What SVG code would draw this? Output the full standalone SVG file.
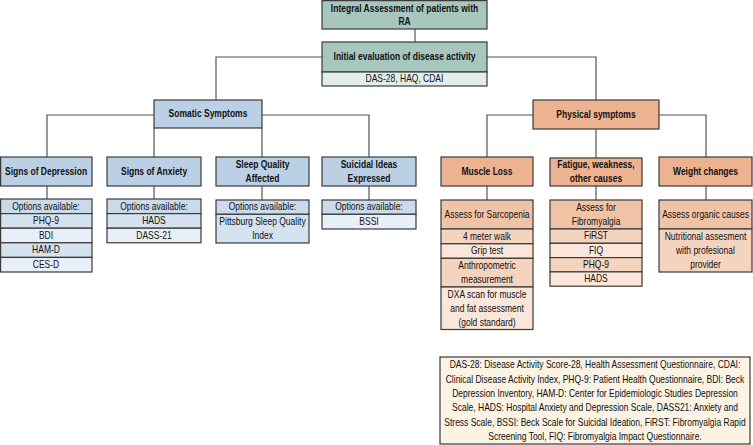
<svg xmlns="http://www.w3.org/2000/svg" width="753" height="445" viewBox="0 0 753 445">
<style>
text{font-family:"Liberation Sans Narrow","Liberation Sans",Arial,sans-serif;font-size:10px;fill:#111;text-anchor:middle;dominant-baseline:central;transform-box:fill-box;transform-origin:center;transform:scaleX(0.85)}
.b{font-weight:bold}
rect{stroke:#3a3a3a;stroke-width:1.2}
.teal{fill:#A7C7BE}
.tealL{fill:#E3EDEA}
.blue{fill:#BBD0E4}
.bh{fill:#C9DAEB}
.b1{fill:#D5E2EF}
.b2{fill:#E8EFF7}
.or{fill:#EDB28F}
.oh{fill:#F0C3A6}
.o1{fill:#F5D4BF}
.o2{fill:#FAE7DA}
.leg{fill:#FBF3E4}
#connectors path{fill:none;stroke:#555;stroke-width:1.2}
</style>
<g id="connectors">
<path d="M415 29V42"/>
<path d="M322 57H216V100"/>
<path d="M487 57H596V100"/>
<path d="M154 115H47V157"/>
<path d="M154 128V157"/>
<path d="M262 128V157"/>
<path d="M262 115H369V157"/>
<path d="M47 186V199"/>
<path d="M154 186V199"/>
<path d="M262 186V200"/>
<path d="M369 186V200"/>
<path d="M533 115H487V157"/>
<path d="M596 129V158"/>
<path d="M659 115H706V157"/>
<path d="M487 186V200"/>
<path d="M596 186V200"/>
<path d="M706 186V200"/>
</g>
<g id="root">
<rect class="teal" x="322" y="0.6" width="165" height="28.4"/>
<text class="b" x="404.5" y="9">Integral Assessment of patients with</text>
<text class="b" x="404.5" y="22">RA</text>
</g>
<g id="initial">
<rect class="teal" x="322" y="42" width="165" height="30"/>
<text class="b" x="404.5" y="57">Initial evaluation of disease activity</text>
<rect class="tealL" x="322" y="72" width="165" height="14"/>
<text x="404.5" y="79">DAS-28, HAQ, CDAI</text>
</g>
<g id="somatic">
<rect class="blue" x="154" y="100" width="108" height="28"/>
<text class="b" x="208" y="114">Somatic Symptoms</text>
</g>
<g id="depression">
<rect class="blue" x="0.6" y="157" width="91.4" height="29"/>
<text class="b" x="46" y="171.5">Signs of Depression</text>
</g>
<g id="depression-options">
<rect class="bh" x="0.6" y="199" width="91.4" height="14.6"/>
<text x="46" y="206.3">Options available:</text>
<rect class="b1" x="0.6" y="213.6" width="91.4" height="14.6"/>
<text x="46" y="220.9">PHQ-9</text>
<rect class="b2" x="0.6" y="228.2" width="91.4" height="14.6"/>
<text x="46" y="235.5">BDI</text>
<rect class="b1" x="0.6" y="242.8" width="91.4" height="14.6"/>
<text x="46" y="250.1">HAM-D</text>
<rect class="b2" x="0.6" y="257.4" width="91.4" height="14.6"/>
<text x="46" y="264.7">CES-D</text>
</g>
<g id="anxiety">
<rect class="blue" x="107" y="157" width="94" height="29"/>
<text class="b" x="154" y="171.5">Signs of Anxiety</text>
</g>
<g id="anxiety-options">
<rect class="bh" x="107" y="199" width="94" height="14.6"/>
<text x="154" y="206.3">Options available:</text>
<rect class="b1" x="107" y="213.6" width="94" height="14.6"/>
<text x="154" y="220.9">HADS</text>
<rect class="b2" x="107" y="228.2" width="94" height="14.6"/>
<text x="154" y="235.5">DASS-21</text>
</g>
<g id="sleep">
<rect class="blue" x="216" y="157" width="93" height="29"/>
<text class="b" x="262.5" y="164.5">Sleep Quality</text>
<text class="b" x="262.5" y="178.5">Affected</text>
</g>
<g id="sleep-options">
<rect class="bh" x="216" y="200" width="93" height="14.3"/>
<text x="262.5" y="207.2">Options available:</text>
<rect class="b1" x="216" y="214.3" width="93" height="28.7"/>
<text x="262.5" y="221.5">Pittsburg Sleep Quality</text>
<text x="262.5" y="235.7">Index</text>
</g>
<g id="suicidal">
<rect class="blue" x="322" y="157" width="94" height="29"/>
<text class="b" x="369" y="164.5">Suicidal Ideas</text>
<text class="b" x="369" y="178.5">Expressed</text>
</g>
<g id="suicidal-options">
<rect class="bh" x="322" y="200" width="94" height="14.3"/>
<text x="369" y="207.2">Options available:</text>
<rect class="b2" x="322" y="214.3" width="94" height="14.7"/>
<text x="369" y="221.7">BSSI</text>
</g>
<g id="physical">
<rect class="or" x="533" y="100" width="126" height="29"/>
<text class="b" x="596" y="114.5">Physical symptoms</text>
</g>
<g id="muscle">
<rect class="or" x="441" y="157" width="92" height="29"/>
<text class="b" x="487" y="171.5">Muscle Loss</text>
</g>
<g id="muscle-options">
<rect class="oh" x="441" y="200" width="92" height="29"/>
<text x="487" y="214.5">Assess for Sarcopenia</text>
<rect class="o1" x="441" y="229" width="92" height="14.8"/>
<text x="487" y="236.4">4 meter walk</text>
<rect class="o2" x="441" y="243.8" width="92" height="14.5"/>
<text x="487" y="251">Grip test</text>
<rect class="o1" x="441" y="258.3" width="92" height="28.7"/>
<text x="487" y="265.5">Anthropometric</text>
<text x="487" y="279.7">measurement</text>
<rect class="o2" x="441" y="287" width="92" height="42.5"/>
<text x="487" y="294.3">DXA scan for muscle</text>
<text x="487" y="308.4">and fat assessment</text>
<text x="487" y="322.5">(gold standard)</text>
</g>
<g id="fatigue">
<rect class="or" x="550" y="158" width="92" height="28"/>
<text class="b" x="596" y="165">Fatigue, weakness,</text>
<text class="b" x="596" y="179">other causes</text>
</g>
<g id="fatigue-options">
<rect class="oh" x="550" y="200" width="92" height="29"/>
<text x="596" y="207.5">Assess for</text>
<text x="596" y="221.5">Fibromyalgia</text>
<rect class="o1" x="550" y="229" width="92" height="14.3"/>
<text x="596" y="236.2">FiRST</text>
<rect class="o2" x="550" y="243.3" width="92" height="14.3"/>
<text x="596" y="250.5">FIQ</text>
<rect class="o1" x="550" y="257.6" width="92" height="14.3"/>
<text x="596" y="264.8">PHQ-9</text>
<rect class="o2" x="550" y="271.9" width="92" height="14.3"/>
<text x="596" y="279.1">HADS</text>
</g>
<g id="weight">
<rect class="or" x="659" y="157" width="93" height="29"/>
<text class="b" x="705.5" y="171.5">Weight changes</text>
</g>
<g id="weight-options">
<rect class="oh" x="659" y="200" width="93" height="29"/>
<text x="705.5" y="214.5">Assess organic causes</text>
<rect class="o1" x="659" y="229" width="93" height="43"/>
<text x="705.5" y="236.5">Nutritional assesment</text>
<text x="705.5" y="250.5">with profesional</text>
<text x="705.5" y="264.5">provider</text>
</g>
<g id="legend">
<rect class="leg" x="440" y="357" width="310" height="87"/>
<text x="595" y="365">DAS-28: Disease Activity Score-28, Health Assessment Questionnaire, CDAI:</text>
<text x="595" y="379.4">Clinical Disease Activity Index, PHQ-9: Patient Health Questionnaire, BDI: Beck</text>
<text x="595" y="393.8">Depression Inventory, HAM-D: Center for Epidemiologic Studies Depression</text>
<text x="595" y="408.2">Scale, HADS: Hospital Anxiety and Depression Scale, DASS21: Anxiety and</text>
<text x="595" y="422.6">Stress Scale, BSSI: Beck Scale for Suicidal Ideation, FiRST: Fibromyalgia Rapid</text>
<text x="595" y="437">Screening Tool, FIQ: Fibromyalgia Impact Questionnaire.</text>
</g>
</svg>
